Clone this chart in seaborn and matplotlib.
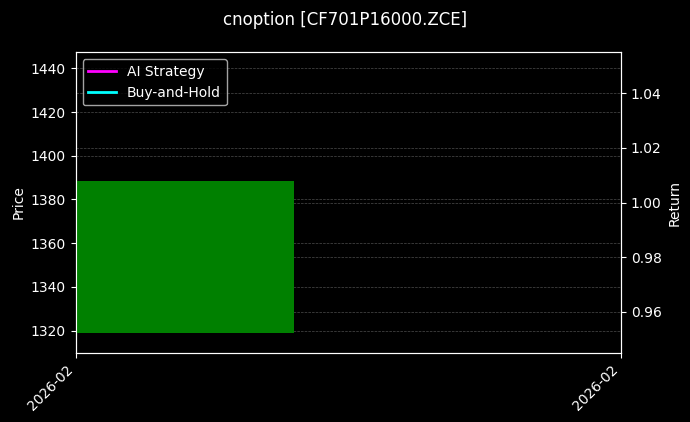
import matplotlib
matplotlib.use("Agg")
import matplotlib.pyplot as plt
import matplotlib.dates as mdates
import seaborn as sns
import numpy as np
import pandas as pd

# data
dates = ["2026-02-10"]
open_price = [1319.0]
close_price = [1388.6]
ai_return = [1.0]
bh_return = [1.0]

plt.style.use("dark_background")
plt.rcParams["font.family"] = ["DejaVu Sans"]

d = mdates.date2num(pd.to_datetime(dates))
df = pd.DataFrame({"date": d, "ai": ai_return, "bh": bh_return})

fig, ax = plt.subplots(figsize=(6.9, 4.22), dpi=100)
fig.subplots_adjust(left=0.1097, right=0.9, top=0.876, bottom=0.164)

ax2 = ax.twinx()
# price axis on top so the candle covers the return grid
ax.set_zorder(ax2.get_zorder() + 1)
ax.patch.set_visible(False)
ax.set_axisbelow(True)

# candle body
body = np.array(close_price) - np.array(open_price)
ax.bar(d, body, bottom=open_price, width=0.6, color="green")
ax.set_ylim(1309.9, 1447.3)
ax.set_ylabel("Price")
ax.grid(True, linestyle="--", linewidth=0.5, alpha=0.3)

sns.lineplot(data=df, x="date", y="ai", ax=ax2, color="magenta", linewidth=2, label="AI Strategy", legend=False)
sns.lineplot(data=df, x="date", y="bh", ax=ax2, color="cyan", linewidth=2, label="Buy-and-Hold", legend=False)
ax2.set_ylabel("Return")
ax2.grid(True, linestyle="--", linewidth=0.5, alpha=0.3)

x0, x1 = d[0] - 0.3, d[0] + 1.2
ax.set_xlim(x0, x1)
ax.set_xticks([x0, x1])
ax.xaxis.set_major_formatter(mdates.DateFormatter("%Y-%m"))
for lbl in ax.get_xticklabels():
    lbl.set_rotation(45)
    lbl.set_ha("right")
ax2.set_xlabel("")
ax.set_xlabel("")

h, l = ax2.get_legend_handles_labels()
ax.legend(h, l, loc="upper left")

fig.suptitle("cnoption [CF701P16000.ZCE]", fontsize=12, y=0.975)
fig.savefig("out.png", dpi=100)
